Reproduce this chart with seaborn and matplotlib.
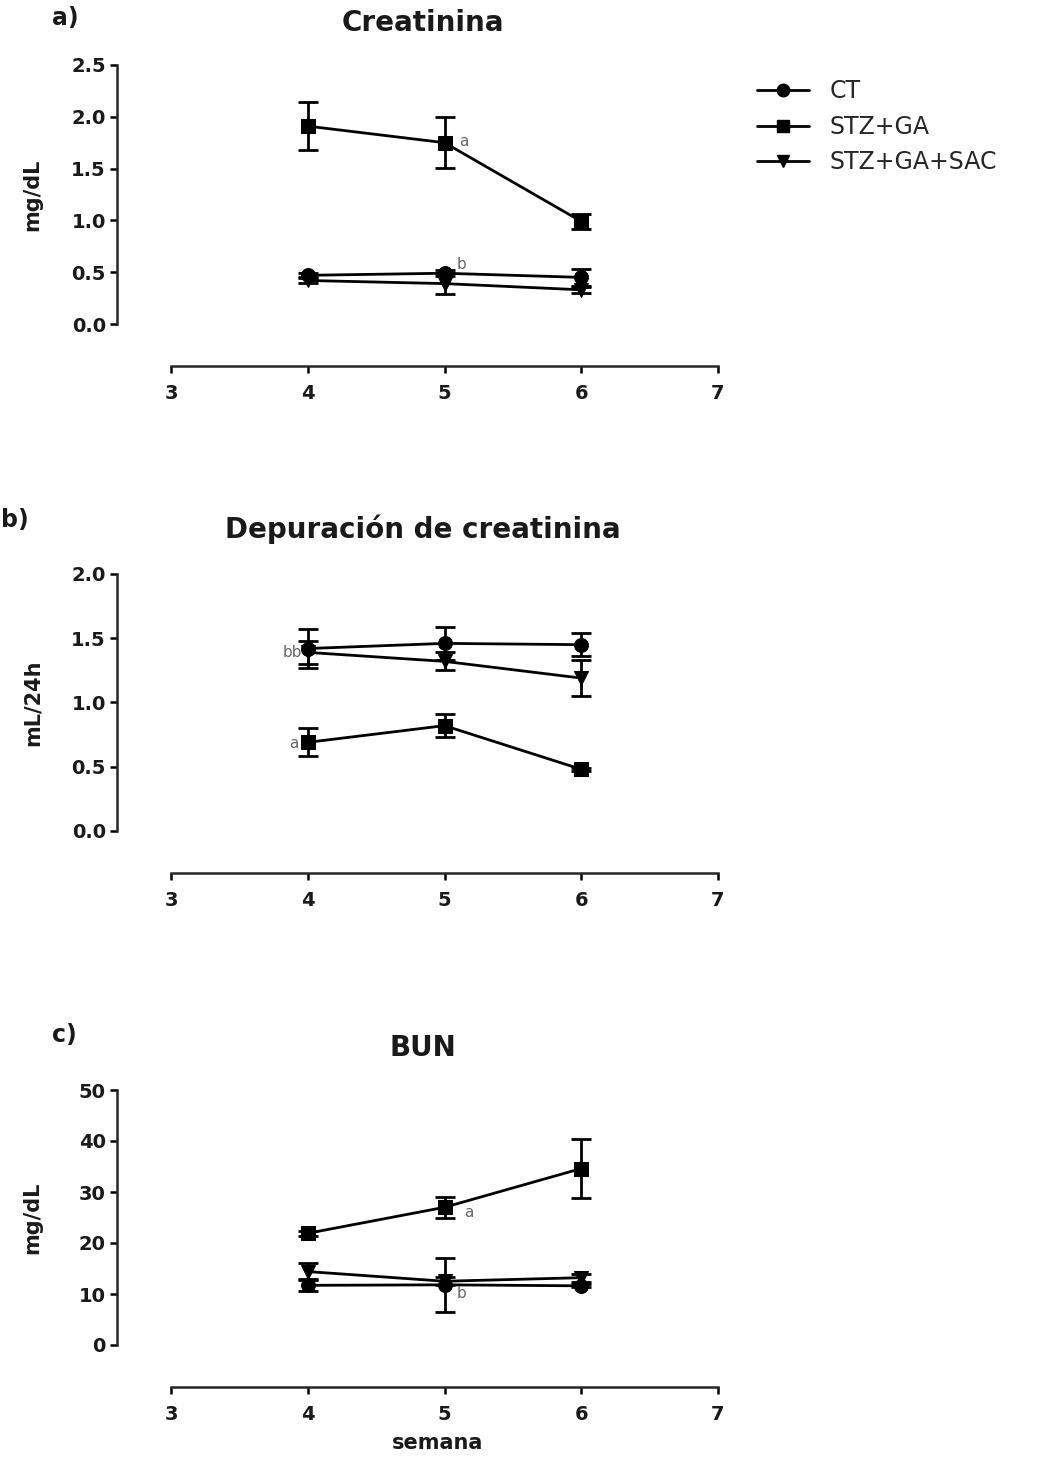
import numpy as np
import pandas as pd
import matplotlib
matplotlib.use("Agg")
import matplotlib.pyplot as plt
import seaborn as sns
from matplotlib.lines import Line2D

# ---------------- data ----------------
semanas = [4, 5, 6]
grupos = ["CT", "STZ+GA", "STZ+GA+SAC"]
marcadores = {"CT": "o", "STZ+GA": "s", "STZ+GA+SAC": "v"}

creat_ct = [0.47, 0.49, 0.45]
creat_ct_sem = [0.02, 0.03, 0.08]
creat_stz = [1.91, 1.75, 0.99]
creat_stz_sem = [0.235, 0.245, 0.07]
creat_sac = [0.42, 0.39, 0.33]
creat_sac_sem = [0.02, 0.10, 0.03]

dep_ct = [1.42, 1.46, 1.45]
dep_ct_sem = [0.15, 0.13, 0.09]
dep_stz = [0.69, 0.82, 0.48]
dep_stz_sem = [0.11, 0.09, 0.01]
dep_sac = [1.39, 1.32, 1.19]
dep_sac_sem = [0.09, 0.07, 0.14]

bun_ct = [11.7, 11.8, 11.6]
bun_ct_sem = [1.2, 5.3, 0.3]
bun_stz = [21.9, 27.0, 34.6]
bun_stz_sem = [0.5, 2.1, 5.7]
bun_sac = [14.4, 12.5, 13.2]
bun_sac_sem = [1.7, 0.8, 0.8]

x_ticks = [3, 4, 5, 6, 7]
creat_ticks = [0.0, 0.5, 1.0, 1.5, 2.0, 2.5]
dep_ticks = [0.0, 0.5, 1.0, 1.5, 2.0]
bun_ticks = [0, 10, 20, 30, 40, 50]

# ---------------- style ----------------
sns.set_theme(style="ticks")
plt.rcParams["font.family"] = ["DejaVu Sans"]
plt.rcParams["axes.linewidth"] = 1.8

W, H = 1044, 1457
fig = plt.figure(figsize=(W / 100, H / 100), dpi=100)
PX = 0.72  # points per pixel at dpi 100
LW = 2.0


def add_ax(x0, x1, y_top, y_bot):
    return fig.add_axes([x0 / W, 1 - y_bot / H, (x1 - x0) / W, (y_bot - y_top) / H])


paneles = [
    dict(series=[(creat_ct, creat_ct_sem), (creat_stz, creat_stz_sem), (creat_sac, creat_sac_sem)],
         ticks=creat_ticks, fmt="{:.1f}", ylabel="mg/dL", title="Creatinina", letra="a)",
         y_top=65, y_bot=324, title_y=23, letra_xy=(52, 18),
         notas=[(5.11, 1.76, "a", "left"), (5.09, 0.57, "b", "left")]),
    dict(series=[(dep_ct, dep_ct_sem), (dep_stz, dep_stz_sem), (dep_sac, dep_sac_sem)],
         ticks=dep_ticks, fmt="{:.1f}", ylabel="mL/24h", title="Depuración de creatinina", letra="b)",
         y_top=574, y_bot=831, title_y=529, letra_xy=(1, 520),
         notas=[(3.96, 1.39, "bb", "right"), (3.93, 0.68, "a", "right")]),
    dict(series=[(bun_ct, bun_ct_sem), (bun_stz, bun_stz_sem), (bun_sac, bun_sac_sem)],
         ticks=bun_ticks, fmt="{:d}", ylabel="mg/dL", title="BUN", letra="c)",
         y_top=1090, y_bot=1345, title_y=1048, letra_xy=(52, 1035),
         notas=[(5.14, 26.0, "a", "left"), (5.09, 10.0, "b", "left")]),
]

for p in paneles:
    ax = add_ax(171, 718, p["y_top"], p["y_bot"])
    rows = []
    for g, (vals, sems) in zip(grupos, p["series"]):
        ax.errorbar(semanas, vals, yerr=sems, fmt="none", ecolor="black",
                    elinewidth=LW, capsize=7, capthick=LW, zorder=2, clip_on=False)
        for s, v in zip(semanas, vals):
            rows.append(dict(semana=s, valor=v, grupo=g))
    df = pd.DataFrame(rows)
    sns.lineplot(data=df, x="semana", y="valor", hue="grupo", style="grupo",
                 hue_order=grupos, style_order=grupos,
                 markers=marcadores, dashes=False, palette=["black"] * 3,
                 markersize=10, linewidth=LW, markeredgecolor="black",
                 errorbar=None, legend=False, ax=ax, zorder=3, clip_on=False)

    ax.set_xlim(3, 7)
    ax.set_ylim(p["ticks"][0], p["ticks"][-1])
    ax.set_xticks(x_ticks)
    ax.set_xticklabels([str(t) for t in x_ticks])
    ax.set_yticks(p["ticks"])
    ax.set_yticklabels([p["fmt"].format(t) for t in p["ticks"]])
    for sp in ["top", "right"]:
        ax.spines[sp].set_visible(False)
    ax.spines["left"].set_position(("outward", 54 * PX))
    ax.spines["bottom"].set_position(("outward", 42 * PX))
    ax.spines["left"].set_bounds(p["ticks"][0], p["ticks"][-1])
    ax.spines["bottom"].set_bounds(3, 7)
    ax.tick_params(direction="out", length=7 * PX, width=1.8, colors="black",
                   labelsize=14)
    ax.tick_params(axis="x", pad=8)
    ax.tick_params(axis="y", pad=3)
    for lab in ax.get_xticklabels() + ax.get_yticklabels():
        lab.set_fontweight("bold")
        lab.set_color("#1a1a1a")
    ax.set_xlabel("")
    ax.set_ylabel(p["ylabel"], fontsize=15, fontweight="bold", color="#1a1a1a")
    ax.yaxis.set_label_coords(-0.235, 0.5)
    ax.set_facecolor("none")

    for (xn, yn, t, ha) in p["notas"]:
        ax.text(xn, yn, t, fontsize=11, color="#666666", ha=ha, va="center")

    fig.text(423 / W, 1 - p["title_y"] / H, p["title"], ha="center", va="center",
             fontsize=20, fontweight="bold", color="#1a1a1a")
    fig.text(p["letra_xy"][0] / W, 1 - p["letra_xy"][1] / H, p["letra"], ha="left",
             va="center", fontsize=17, fontweight="bold", color="#1a1a1a")

    if p["title"] == "BUN":
        fig.text(438 / W, 1 - 1443 / H, "semana", ha="center", va="center",
                 fontsize=15, fontweight="bold", color="#1a1a1a")

handles = [Line2D([0], [0], color="black", lw=LW, marker=marcadores[g], markersize=9)
           for g in grupos]
fig.legend(handles, grupos, loc="upper left", bbox_to_anchor=(748 / W, 1 - 70 / H),
           frameon=False, fontsize=17, handlelength=2.2, labelspacing=0.48,
           handletextpad=0.85, borderaxespad=0)

fig.savefig("out.png", dpi=100, facecolor="white")
